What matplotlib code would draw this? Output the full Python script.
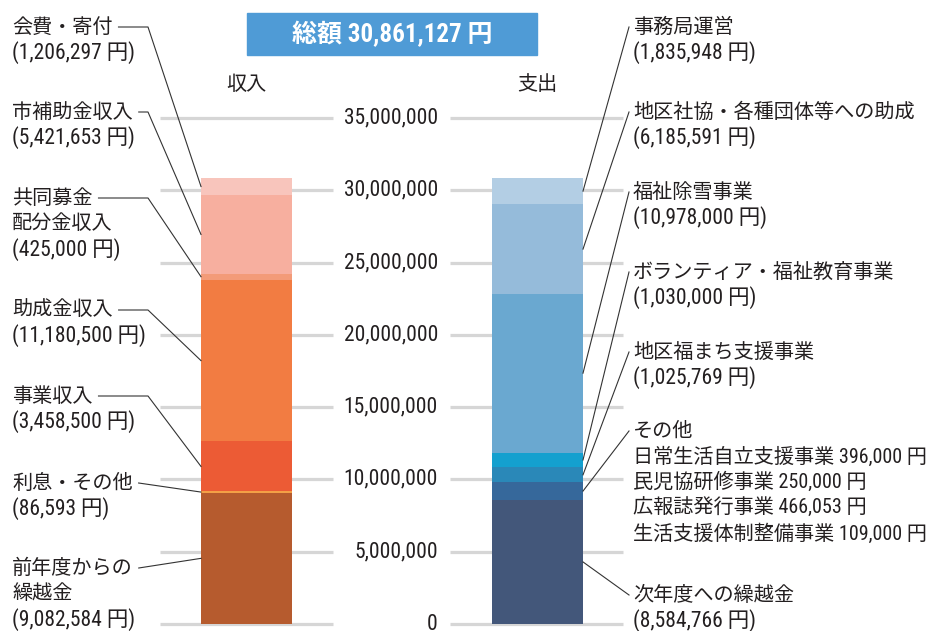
import numpy as np
import matplotlib
matplotlib.use("Agg")
import matplotlib.pyplot as plt
from matplotlib import font_manager
from matplotlib.patches import Rectangle

# data (top-to-bottom as drawn in the stacks)
income_labels = ["会費・寄付", "市補助金収入", "共同募金\n配分金収入", "助成金収入",
                 "事業収入", "利息・その他", "前年度からの\n繰越金"]
income_values = [1206297, 5421653, 425000, 11180500, 3458500, 86593, 9082584]
income_colors = ["#f8c5bc", "#f7af9f", "#f39b78", "#f27c42", "#ec5b35", "#f4a046", "#b65b2e"]

expense_labels = ["事務局運営", "地区社協・各種団体等への助成", "福祉除雪事業",
                  "ボランティア・福祉教育事業", "地区福まち支援事業", "その他", "次年度への繰越金"]
other_items = ["日常生活自立支援事業", "民児協研修事業", "広報誌発行事業", "生活支援体制整備事業"]
other_values = [396000, 250000, 466053, 109000]
expense_values = [1835948, 6185591, 10978000, 1030000, 1025769, sum(other_values), 8584766]
expense_colors = ["#b3cee4", "#95bbda", "#6aa8d0", "#14a0cf", "#2a88b8", "#36689b", "#43577a"]

ticks = np.arange(0, 35_000_001, 5_000_000)

# fonts: narrow latin for digits, CJK fallback
names = {f.name for f in font_manager.fontManager.ttflist}
latin = "Roboto"
for cand in ["Roboto Condensed", "Liberation Sans Narrow", "DejaVu Sans Condensed",
             "Open Sans Condensed", "Roboto"]:
    if cand in names:
        latin = cand
        break
FAM = [latin, "Noto Sans CJK JP", "DejaVu Sans"]
TXT = "#231f20"

W, H = 939, 631
fig = plt.figure(figsize=(W / 100, H / 100), dpi=100)
ax = fig.add_axes([0, 0, 1, 1])
ax.axis("off")

# pixel layout: value 0 at row 624, 35M at row 118
y0_px, ytop_px = 624, 118
scale = 35e6 / (y0_px - ytop_px)
ax.set_xlim(0, W)
ax.set_ylim(-(H - y0_px) * scale, y0_px * scale)


def py(p):
    return (y0_px - p) * scale


def stack(values):
    v = np.array(values, dtype=float)
    return v, v[::-1].cumsum()[::-1] - v


inc, inc_bot = stack(income_values)
exp, exp_bot = stack(expense_values)

# grid
ax.hlines(ticks, 160, 333, color="#d6d6d6", lw=2.3, zorder=1)
ax.hlines(ticks, 450, 623, color="#d6d6d6", lw=2.3, zorder=1)
for t in ticks:
    ax.text(438, t, f"{t:,}", ha="right", va="center", fontsize=15.5, family=FAM,
            fontstretch="condensed", color=TXT)

# bars
lx, rx, bw = 246.5, 537.5, 91
ax.bar([lx] * len(inc), inc, bottom=inc_bot, width=bw, color=income_colors, zorder=2)
ax.bar([rx] * len(exp), exp, bottom=exp_bot, width=bw, color=expense_colors, zorder=2)

ax.text(lx, py(85), "収入", ha="center", va="center", fontsize=14.5, family=FAM, color=TXT)
ax.text(rx, py(85), "支出", ha="center", va="center", fontsize=14.5, family=FAM, color=TXT)

# title box
total = int(inc.sum())
ax.add_patch(Rectangle((247, py(55)), 290, py(13) - py(55), color="#4f9bd6", zorder=3))
ax.text(392, py(34), f"総額 {total:,} 円", ha="center", va="center", fontsize=18,
        fontweight="bold", family=FAM, fontstretch="condensed", color="white", zorder=4)

renderer = fig.canvas.get_renderer()
LS = 25.6
CJK_FS, NUM_FS = 14.5, 15.5

# income labels (left)
inc_rows = [27, 112, 198, 310, 396, 483, 568]
inc_elbow = [True, True, True, True, True, False, False]
for lab, v, b, row, elbow in zip(income_labels, inc, inc_bot, inc_rows, inc_elbow):
    lines = lab.split("\n")
    first = None
    for i, ln in enumerate(lines):
        t = ax.text(12, py(row + i * LS), ln, ha="left", va="center", fontsize=CJK_FS,
                    family=FAM, color=TXT)
        if first is None:
            first = t
    ax.text(12, py(row + len(lines) * LS), f"({int(v):,} 円)", ha="left", va="center",
            fontsize=NUM_FS, family=FAM, fontstretch="condensed", color=TXT)
    x_start = first.get_window_extent(renderer).x1 + 6
    mid = b + v / 2
    if elbow:
        xs, ys = [x_start, 148, lx - bw / 2], [py(row), py(row), mid]
    else:
        xs, ys = [x_start, lx - bw / 2], [py(row), mid]
    ax.plot(xs, ys, color="#333333", lw=0.8, zorder=5)

# expense labels (right)
exp_rows = [27, 112, 192, 272, 352, 431, 595]
for lab, v, b, row in zip(expense_labels, exp, exp_bot, exp_rows):
    ax.text(633, py(row), lab, ha="left", va="center", fontsize=CJK_FS, family=FAM, color=TXT)
    if lab == "その他":
        for i, (nm, ov) in enumerate(zip(other_items, other_values)):
            ax.text(633, py(row + (i + 1) * LS), f"{nm} {ov:,} 円", ha="left", va="center",
                    fontsize=CJK_FS, family=FAM, fontstretch="condensed", color=TXT)
    else:
        ax.text(633, py(row + LS), f"({int(v):,} 円)", ha="left", va="center",
                fontsize=NUM_FS, family=FAM, fontstretch="condensed", color=TXT)
    ax.plot([rx + bw / 2, 629], [b + v / 2, py(row)], color="#333333", lw=0.8, zorder=5)

fig.savefig("out.png", dpi=100)
